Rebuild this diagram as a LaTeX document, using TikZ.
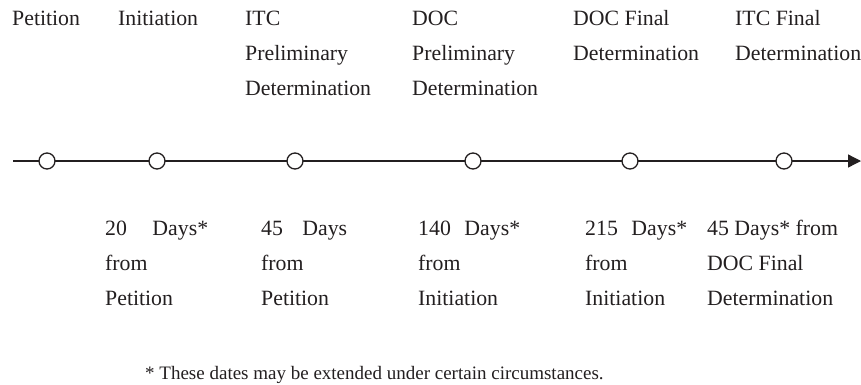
\documentclass[tikz,border=0pt]{standalone}
\usepackage{fontspec}
\setmainfont{Liberation Serif}
\usetikzlibrary{arrows.meta}
\definecolor{ink}{HTML}{231F20}
\begin{document}
\begin{tikzpicture}[x=1pt,y=1pt,
  lbl/.style={anchor=base west,inner sep=0pt,align=left,text=ink,
    font=\fontsize{21.8}{35}\selectfont},
  evt/.style={circle,draw=ink,fill=white,line width=1.3pt,minimum size=16pt,inner sep=0pt}]
\useasboundingbox (0,0) rectangle (861,-384);
% timeline
\coordinate (start) at (13,-161);
\coordinate (end) at (861,-161);
\draw[ink,line width=1.3pt,-{Triangle[length=13pt,width=13pt]}] (start) -- (end);
\foreach \x/\n in {47/e1,157/e2,295/e3,473/e4,630/e5,784/e6}
  \node[evt] (\n) at (\x,-161) {};
% top labels (anchored at baseline of last line)
\node[lbl] (t1) at (12,-25) {Petition};
\node[lbl] (t2) at (118,-25) {Initiation};
\node[lbl] (t3) at (245,-95) {ITC\\Preliminary\\Determination};
\node[lbl] (t4) at (412,-95) {DOC\\Preliminary\\Determination};
\node[lbl] (t5) at (573,-60) {DOC Final\\Determination};
\node[lbl] (t6) at (735,-60) {ITC Final\\Determination};
% bottom labels
\node[lbl] (b1) at (105,-305) {\makebox[103pt][s]{20 Days*}\\from\\Petition};
\node[lbl] (b2) at (261,-305) {\makebox[86pt][s]{45 Days}\\from\\Petition};
\node[lbl] (b3) at (418,-305) {\makebox[102pt][s]{140 Days*}\\from\\Initiation};
\node[lbl] (b4) at (585,-305) {\makebox[102pt][s]{215 Days*}\\from\\Initiation};
\node[lbl] (b5) at (707,-305) {45 Days* from\\DOC Final\\Determination};
% footnote
\node[lbl,font=\fontsize{19}{23}\selectfont] (fn) at (145,-379) {* These dates may be extended under certain circumstances.};
\end{tikzpicture}
\end{document}
